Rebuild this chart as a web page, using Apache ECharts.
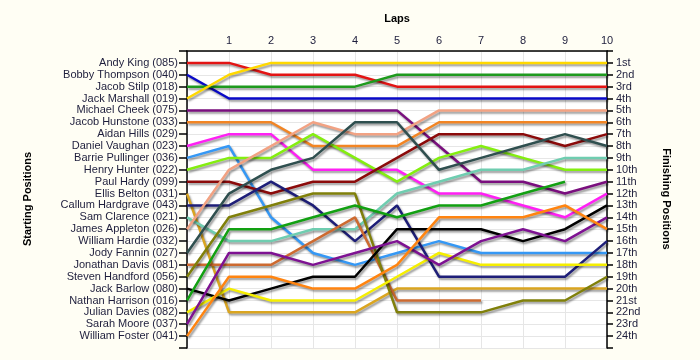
<!DOCTYPE html>
<html>
<head>
<meta charset="utf-8">
<script src="https://cdn.jsdelivr.net/npm/echarts@6/dist/echarts.min.js"></script>
<style>
  html, body { margin: 0; padding: 0; background: #FFFEF4; }
  #chart { width: 700px; height: 360px; }
</style>
</head>
<body>
<div id="chart"></div>
<script>
// Lap tick labels (lap 0 unlabeled)
const lapLabels = ['', '1', '2', '3', '4', '5', '6', '7', '8', '9', '10'];

// Starting grid (left axis), position 1..24
const startNames = [
  'Andy King (085)', 'Bobby Thompson (040)', 'Jacob Stilp (018)', 'Jack Marshall (019)',
  'Michael Cheek (075)', 'Jacob Hunstone (033)', 'Aidan Hills (029)', 'Daniel Vaughan (023)',
  'Barrie Pullinger (036)', 'Henry Hunter (022)', 'Paul Hardy (099)', 'Ellis Belton (031)',
  'Callum Hardgrave (043)', 'Sam Clarence (021)', 'James Appleton (026)', 'William Hardie (032)',
  'Jody Fannin (027)', 'Jonathan Davis (081)', 'Steven Handford (056)', 'Jack Barlow (080)',
  'Nathan Harrison (016)', 'Julian Davies (082)', 'Sarah Moore (037)', 'William Foster (041)'
];

// Finishing positions (right axis)
const finishLabels = [
  '1st', '2nd', '3rd', '4th', '5th', '6th', '7th', '8th', '9th', '10th', '11th', '12th',
  '13th', '14th', '15th', '16th', '17th', '18th', '19th', '20th', '21st', '22nd', '23rd', '24th'
];

// Position of each driver at laps 0..10 (null = retired)
const andyKing        = [1, 1, 2, 2, 2, 3, 3, 3, 3, 3, 3];
const bobbyThompson   = [2, 4, 4, 4, 4, 4, 4, 4, 4, 4, 4];
const jacobStilp      = [3, 3, 3, 3, 3, 2, 2, 2, 2, 2, 2];
const jackMarshall    = [4, 2, 1, 1, 1, 1, 1, 1, 1, 1, 1];
const michaelCheek    = [5, 5, 5, 5, 5, 5, 8, 11, 11, 12, 11];
const jacobHunstone   = [6, 6, 6, 8, 8, 8, 6, 6, 6, 6, 6];
const danielVaughan   = [8, 7, 7, 10, 10, 10, 12, 12, 13, 14, 12];
const barriePullinger = [9, 8, 14, 17, 18, 17, 16, 17, 17, 17, 17];
const henryHunter     = [10, 9, 9, 7, 9, 11, 9, 8, 9, 10, 10];
const paulHardy       = [11, 11, 12, 11, 11, 9, 7, 7, 7, 8, 7];
const ellisBelton     = [12, 22, 22, 22, 22, 20, 20, 20, 20, 20, 20];
const callumHardgrave = [13, 13, 11, 13, 16, 13, 19, 19, 19, 19, 16];
const samClarence     = [14, 16, 16, 15, 15, 12, 11, 10, 10, 9, 9];
const jamesAppleton   = [15, 10, 8, 6, 7, 7, 5, 5, 5, 5, 5];
const jodyFannin      = [17, 12, 10, 9, 6, 6, 10, 9, 8, 7, 8];
const jonathanDavis   = [18, 18, 18, 16, 14, 21, 21, 21, null, null, null];
const stevenHandford  = [19, 14, 13, 12, 12, 22, 22, 22, 21, 21, 19];
const jackBarlow      = [20, 21, 20, 19, 19, 15, 15, 15, 16, 15, 13];
const nathanHarrison  = [21, 15, 15, 14, 13, 14, 13, 13, 12, 11, null];
const julianDavies    = [22, 20, 21, 21, 21, 19, 17, 18, 18, 18, 18];
const sarahMoore      = [23, 17, 17, 18, 17, 16, 18, 16, 15, 16, 14];
const williamFoster   = [24, 19, 19, 20, 20, 18, 14, 14, 14, 13, 15];

const drivers = [
  ['Andy King', andyKing, '#E31414'],
  ['Bobby Thompson', bobbyThompson, '#0A0AC8'],
  ['Jacob Stilp', jacobStilp, '#1E9A1E'],
  ['Jack Marshall', jackMarshall, '#FFD800'],
  ['Michael Cheek', michaelCheek, '#7A0F7E'],
  ['Jacob Hunstone', jacobHunstone, '#F28524'],
  ['Daniel Vaughan', danielVaughan, '#FF20F4'],
  ['Barrie Pullinger', barriePullinger, '#3598F5'],
  ['Henry Hunter', henryHunter, '#84EE10'],
  ['Paul Hardy', paulHardy, '#8B0A0A'],
  ['Ellis Belton', ellisBelton, '#DAA520'],
  ['Callum Hardgrave', callumHardgrave, '#1E1E78'],
  ['Sam Clarence', samClarence, '#6FCDB0'],
  ['James Appleton', jamesAppleton, '#F2A283'],
  ['Jody Fannin', jodyFannin, '#2F4F4F'],
  ['Jonathan Davis', jonathanDavis, '#CD6A30'],
  ['Steven Handford', stevenHandford, '#80800A'],
  ['Jack Barlow', jackBarlow, '#000000'],
  ['Nathan Harrison', nathanHarrison, '#12A012'],
  ['Julian Davies', julianDavies, '#F5EE00'],
  ['Sarah Moore', sarahMoore, '#7E1292'],
  ['William Foster', williamFoster, '#FF8410']
];

const labelColor = '#1E1E3C';
const font = '"Liberation Sans", Arial, sans-serif';

const series = drivers.map(([name, pos, color]) => ({
  name: name,
  type: 'line',
  symbol: 'none',
  data: pos.map((p, i) => [i, p]).filter(d => d[1] !== null),
  lineStyle: {
    color: color, width: 2.5,
    shadowColor: 'rgba(0,0,0,0.4)', shadowBlur: 2, shadowOffsetX: 1.5, shadowOffsetY: 2
  },
  itemStyle: { color: color },
  emphasis: { disabled: true },
  animation: false
}));

const chart = echarts.init(document.getElementById('chart'));
chart.setOption({
  backgroundColor: '#FFFEF4',
  animation: false,
  grid: {
    left: 187, right: 93, top: 51, bottom: 12,
    show: true, backgroundColor: '#FFFFFF', borderWidth: 0
  },
  xAxis: {
    type: 'value', position: 'top', min: 0, max: 10, interval: 1,
    name: 'Laps', nameLocation: 'middle', nameGap: 27,
    nameTextStyle: { fontFamily: font, fontSize: 11, fontWeight: 'bold', color: '#000' },
    axisLine: { lineStyle: { color: '#000', width: 1.5 } },
    axisTick: { show: false },
    axisLabel: {
      margin: 5, fontFamily: font, fontSize: 11, color: labelColor,
      formatter: v => lapLabels[v] || ''
    },
    splitLine: { show: true, lineStyle: { color: '#E6E6E6', width: 1 } }
  },
  yAxis: [
    {
      type: 'value', position: 'left', min: 0, max: 25, interval: 1, inverse: true,
      axisLine: { show: true, lineStyle: { color: '#000', width: 1.5 } },
      axisTick: { show: true, length: 8, lineStyle: { color: '#000', width: 1.5 } },
      axisLabel: {
        margin: 9, fontFamily: font, fontSize: 11, color: labelColor,
        showMinLabel: true, showMaxLabel: true,
        formatter: v => startNames[v - 1] || ''
      },
      splitLine: { show: true, lineStyle: { color: '#E6E6E6', width: 1 } }
    },
    {
      type: 'value', position: 'right', min: 0, max: 25, interval: 1, inverse: true,
      axisLine: { show: true, lineStyle: { color: '#000', width: 1.5 } },
      axisTick: { show: true, length: 6, lineStyle: { color: '#000', width: 1.5 } },
      axisLabel: {
        margin: 9, fontFamily: font, fontSize: 11, color: labelColor,
        formatter: v => finishLabels[v - 1] || ''
      },
      splitLine: { show: false }
    }
  ],
  graphic: [
    {
      type: 'text', x: 28, y: 199, rotation: Math.PI / 2,
      style: {
        text: 'Starting Positions', font: 'bold 11px ' + font, fill: '#000',
        align: 'center', verticalAlign: 'middle'
      }
    },
    {
      type: 'text', x: 666, y: 199, rotation: -Math.PI / 2,
      style: {
        text: 'Finishing Positions', font: 'bold 11px ' + font, fill: '#000',
        align: 'center', verticalAlign: 'middle'
      }
    }
  ],
  series: series
});
</script>
</body>
</html>
